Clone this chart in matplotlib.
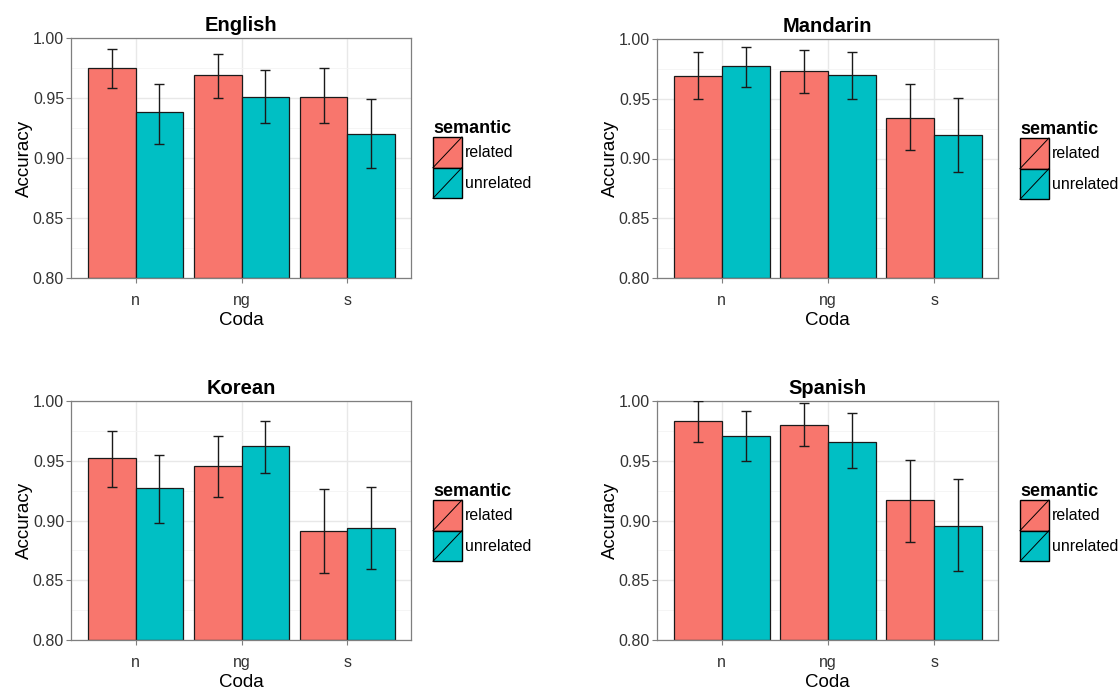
import matplotlib
matplotlib.use("Agg")
import matplotlib.pyplot as plt
import numpy as np
from matplotlib.legend_handler import HandlerPatch
from matplotlib.patches import Patch, Rectangle
from matplotlib.lines import Line2D

plt.rcParams['font.family'] = ['Liberation Sans', 'DejaVu Sans']

codas = ['n', 'ng', 's']

# English
english_rel = [0.975, 0.969, 0.951]
english_rel_lo = [0.958, 0.950, 0.929]
english_rel_hi = [0.991, 0.987, 0.975]
english_unr = [0.938, 0.951, 0.920]
english_unr_lo = [0.912, 0.929, 0.892]
english_unr_hi = [0.962, 0.973, 0.949]

# Mandarin
mandarin_rel = [0.969, 0.973, 0.934]
mandarin_rel_lo = [0.950, 0.955, 0.907]
mandarin_rel_hi = [0.989, 0.991, 0.962]
mandarin_unr = [0.977, 0.970, 0.920]
mandarin_unr_lo = [0.960, 0.950, 0.889]
mandarin_unr_hi = [0.993, 0.989, 0.951]

# Korean
korean_rel = [0.952, 0.946, 0.891]
korean_rel_lo = [0.928, 0.920, 0.856]
korean_rel_hi = [0.975, 0.971, 0.926]
korean_unr = [0.927, 0.962, 0.894]
korean_unr_lo = [0.898, 0.940, 0.859]
korean_unr_hi = [0.955, 0.983, 0.928]

# Spanish
spanish_rel = [0.983, 0.980, 0.917]
spanish_rel_lo = [0.966, 0.962, 0.882]
spanish_rel_hi = [1.000, 0.998, 0.951]
spanish_unr = [0.971, 0.966, 0.895]
spanish_unr_lo = [0.950, 0.944, 0.858]
spanish_unr_hi = [0.992, 0.990, 0.935]

RED = '#F8766D'
CYAN = '#00BFC4'

panels = [
    ('English', english_rel, english_rel_lo, english_rel_hi,
     english_unr, english_unr_lo, english_unr_hi, [71, 38, 411, 278]),
    ('Mandarin', mandarin_rel, mandarin_rel_lo, mandarin_rel_hi,
     mandarin_unr, mandarin_unr_lo, mandarin_unr_hi, [657, 39, 998, 278]),
    ('Korean', korean_rel, korean_rel_lo, korean_rel_hi,
     korean_unr, korean_unr_lo, korean_unr_hi, [71, 401, 411, 640]),
    ('Spanish', spanish_rel, spanish_rel_lo, spanish_rel_hi,
     spanish_unr, spanish_unr_lo, spanish_unr_hi, [657, 401, 998, 640]),
]

W, H = 1120, 691
fig = plt.figure(figsize=(W / 100, H / 100), dpi=100)


class SlashHandler(HandlerPatch):
    # ggplot-style legend key: filled box with a diagonal slash
    def create_artists(self, legend, orig_handle, xdescent, ydescent,
                       width, height, fontsize, trans):
        r = Rectangle((-xdescent, -ydescent), width, height,
                      facecolor=orig_handle.get_facecolor(),
                      edgecolor='black', lw=1.0, transform=trans)
        l = Line2D([-xdescent, -xdescent + width], [-ydescent, -ydescent + height],
                   color='black', lw=0.7, transform=trans)
        return [r, l]


x = np.arange(len(codas))
w = 0.45

for title, rel, rlo, rhi, unr, ulo, uhi, box in panels:
    l, t, r, b = box
    ax = fig.add_axes([l / W, 1 - b / H, (r - l) / W, (b - t) / H])

    rel = np.array(rel); unr = np.array(unr)
    ax.bar(x - w / 2, rel - 0.8, w, bottom=0.8, color=RED, edgecolor='#1a1a1a', lw=0.9, zorder=2)
    ax.bar(x + w / 2, unr - 0.8, w, bottom=0.8, color=CYAN, edgecolor='#1a1a1a', lw=0.9, zorder=2)
    ax.errorbar(x - w / 2, rel, yerr=[rel - np.array(rlo), np.array(rhi) - rel],
                fmt='none', ecolor='#1a1a1a', elinewidth=1, capsize=3.5, capthick=1, zorder=3)
    ax.errorbar(x + w / 2, unr, yerr=[unr - np.array(ulo), np.array(uhi) - unr],
                fmt='none', ecolor='#1a1a1a', elinewidth=1, capsize=3.5, capthick=1, zorder=3)

    ax.set_xlim(-0.61, 2.6)
    ax.set_ylim(0.8, 1.0)
    ax.set_xticks(x)
    ax.set_xticklabels(codas)
    ax.set_yticks([0.80, 0.85, 0.90, 0.95, 1.00])
    ax.set_yticklabels(['0.80', '0.85', '0.90', '0.95', '1.00'])
    ax.set_yticks([0.825, 0.875, 0.925, 0.975], minor=True)
    ax.grid(True, which='major', color='#E8E8E8', lw=1.0, zorder=0)
    ax.grid(True, which='minor', axis='y', color='#F4F4F4', lw=0.6, zorder=0)
    ax.set_axisbelow(True)
    ax.tick_params(axis='both', which='major', labelsize=11.5, colors='#7F7F7F',
                   labelcolor='#333333', length=3.5, width=0.8)
    ax.tick_params(axis='y', which='major', pad=1.5)
    ax.tick_params(axis='x', which='major', pad=7)
    ax.tick_params(axis='y', which='minor', length=0)
    for s in ax.spines.values():
        s.set_color('#7F7F7F')
        s.set_linewidth(0.9)
    ax.set_xlabel('Coda', fontsize=13.5, labelpad=3)
    ax.set_ylabel('Accuracy', fontsize=13.5, labelpad=0)
    ax.set_title(title, fontsize=14.5, fontweight='bold', pad=5)

    handles = [Patch(facecolor=RED, label='related'), Patch(facecolor=CYAN, label='unrelated')]
    leg = fig.legend(handles=handles, title='semantic', loc='upper left',
                     bbox_to_anchor=((r + 22) / W, 1 - (t + 82) / H),
                     frameon=False, fontsize=11.4, labelspacing=0, handlelength=1.83,
                     handleheight=2.6, handletextpad=0.2, borderpad=0, borderaxespad=0,
                     alignment='left', handler_map={Patch: SlashHandler()})
    leg.get_title().set_fontweight('bold')
    leg.get_title().set_fontsize(13)

fig.savefig('out.png', dpi=100, facecolor='white')
